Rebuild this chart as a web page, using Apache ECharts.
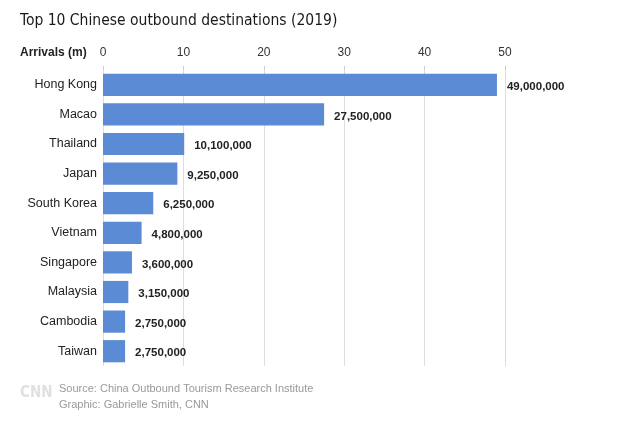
<!DOCTYPE html>
<html><head><meta charset="utf-8">
<script src="https://cdn.jsdelivr.net/npm/echarts@6/dist/echarts.min.js"></script>
<style>html,body{margin:0;padding:0;background:#fff}#c{width:630px;height:422px}</style>
</head><body><div id="c"></div>
<script>
const categories = ["Hong Kong","Macao","Thailand","Japan","South Korea","Vietnam","Singapore","Malaysia","Cambodia","Taiwan"];
const arrivals = [49000000,27500000,10100000,9250000,6250000,4800000,3600000,3150000,2750000,2750000];
const tickValues = [0,10,20,30,40,50];

const chart = echarts.init(document.getElementById('c'), null, {renderer:'canvas'});
chart.setOption({
  backgroundColor:'#fff',
  animation:false,
  title:{text:'Top 10 Chinese outbound destinations (2019)', left:15, top:8,
    textStyle:{fontFamily:'DejaVu Sans Condensed', fontSize:15.5, fontWeight:'normal', color:'#1a1a1a'}},
  graphic:[
    {type:'text', left:20, top:47, style:{text:'Arrivals (m)', font:'bold 12px "Liberation Sans", Arial', fill:'#222'}},
    {type:'text', left:20, top:386, style:{text:'CNN', font:'bold 15px "DejaVu Sans Condensed"', fill:'#e0e0e0'}},
    {type:'text', left:59, top:383, style:{text:'Source: China Outbound Tourism Research Institute', font:'11px "Liberation Sans", Arial', fill:'#999'}},
    {type:'text', left:59, top:399, style:{text:'Graphic: Gabrielle Smith, CNN', font:'11px "Liberation Sans", Arial', fill:'#999'}}
  ],
  grid:{left:103, top:70, width:402, height:296, containLabel:false},
  xAxis:{type:'value', position:'top', min:0, max:50, interval:10,
    axisLine:{show:false},
    axisTick:{show:true, length:4, lineStyle:{color:'#ccc'}},
    axisLabel:{color:'#333', fontSize:12, fontFamily:'Liberation Sans', margin:11,
      formatter:function(v){return tickValues.indexOf(v)>=0 ? String(v) : '';}},
    splitLine:{show:true, lineStyle:{color:'#ddd'}}},
  yAxis:{type:'category', inverse:true, data:categories,
    axisLine:{show:false}, axisTick:{show:false},
    axisLabel:{color:'#222', fontSize:12.5, fontFamily:'Liberation Sans', margin:6}},
  series:[{type:'bar', data:arrivals.map(v=>v/1e6), barCategoryGap:'25%',
    itemStyle:{color:'#5b8bd4'},
    label:{show:true, position:'right', distance:10, offset:[0,2], color:'#222', fontSize:11.5, fontWeight:'bold', fontFamily:'Liberation Sans',
      formatter:function(p){return arrivals[p.dataIndex].toLocaleString('en-US');}}}]
});
</script></body></html>
